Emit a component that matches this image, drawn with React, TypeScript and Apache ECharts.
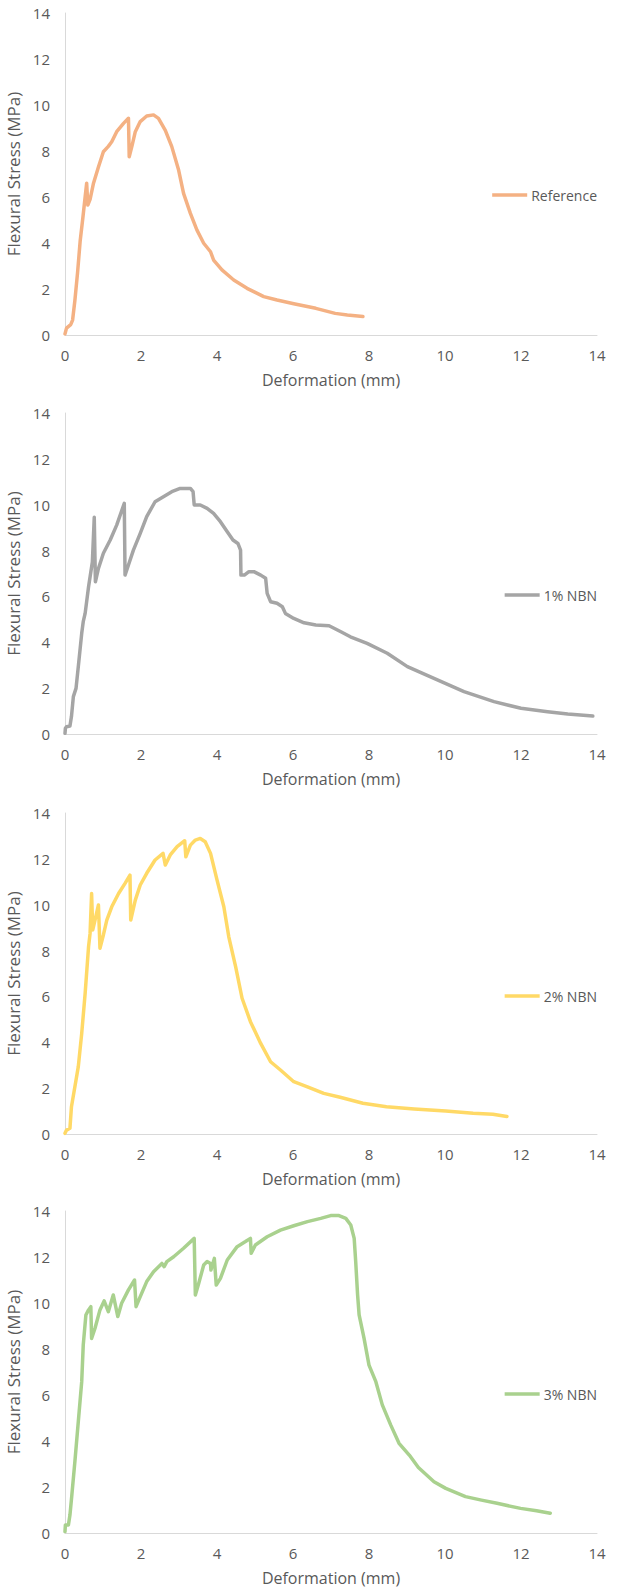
import React, { useEffect, useRef } from "react";
import * as echarts from "echarts";

const xTicks = [0, 2, 4, 6, 8, 10, 12, 14];
const yTicks = [0, 2, 4, 6, 8, 10, 12, 14];
const seriesNames = ["Reference", "1% NBN", "2% NBN", "3% NBN"];
const seriesColors = ["#F4B183", "#A5A5A5", "#FFD966", "#A9D18E"];

const referenceData: number[][] = [
  [0, 0.05], [0.04, 0.3], [0.15, 0.45], [0.2, 0.65], [0.26, 1.5], [0.33, 2.7], [0.4, 4.1],
  [0.47, 5.1], [0.53, 6.0], [0.57, 6.6], [0.6, 5.65], [0.66, 5.9], [0.75, 6.6], [0.88, 7.3],
  [1.01, 7.97], [1.14, 8.2], [1.23, 8.4], [1.36, 8.84], [1.54, 9.2], [1.67, 9.42], [1.69, 7.75],
  [1.76, 8.2], [1.85, 8.84], [1.98, 9.28], [2.15, 9.52], [2.33, 9.57], [2.46, 9.42], [2.64, 8.9],
  [2.81, 8.19], [2.99, 7.17], [3.12, 6.16], [3.3, 5.29], [3.47, 4.57], [3.65, 3.99], [3.83, 3.62],
  [3.91, 3.26], [4.13, 2.83], [4.44, 2.39], [4.79, 2.03], [5.23, 1.67], [5.58, 1.52], [6.02, 1.36],
  [6.6, 1.16], [7.11, 0.94], [7.43, 0.87], [7.84, 0.8],
];

const nbn1Data: number[][] = [
  [0, 0.03], [0.01, 0.25], [0.04, 0.32], [0.13, 0.35], [0.17, 0.76], [0.22, 1.63], [0.29, 1.99],
  [0.35, 2.94], [0.44, 4.39], [0.48, 4.9], [0.53, 5.26], [0.62, 6.42], [0.72, 7.5], [0.77, 9.45],
  [0.8, 6.64], [0.88, 7.22], [1.01, 7.88], [1.19, 8.46], [1.36, 9.11], [1.56, 10.06], [1.58, 6.93],
  [1.67, 7.37], [1.8, 8.02], [1.98, 8.75], [2.15, 9.48], [2.37, 10.13], [2.59, 10.35], [2.81, 10.57],
  [3.03, 10.71], [3.3, 10.71], [3.37, 10.57], [3.4, 9.99], [3.56, 9.99], [3.74, 9.84], [3.91, 9.62],
  [4.09, 9.26], [4.27, 8.82], [4.42, 8.46], [4.55, 8.31], [4.62, 8.02], [4.63, 6.93], [4.72, 6.93],
  [4.84, 7.08], [4.97, 7.08], [5.15, 6.93], [5.28, 6.79], [5.32, 6.13], [5.41, 5.77], [5.58, 5.7],
  [5.72, 5.55], [5.8, 5.26], [6.02, 5.04], [6.29, 4.85], [6.6, 4.75], [6.95, 4.72], [7.26, 4.46],
  [7.51, 4.24], [7.95, 3.95], [8.48, 3.52], [9.01, 2.94], [9.71, 2.43], [10.5, 1.85], [11.29, 1.41],
  [12.0, 1.12], [12.7, 0.97], [13.23, 0.87], [13.89, 0.78],
];

const nbn2Data: number[][] = [
  [0, 0.03], [0.04, 0.17], [0.13, 0.25], [0.17, 1.19], [0.26, 2.06], [0.35, 2.94], [0.44, 4.39],
  [0.53, 6.13], [0.62, 8.17], [0.66, 8.75], [0.7, 10.49], [0.73, 8.9], [0.79, 9.33], [0.88, 9.99],
  [0.92, 8.1], [1.01, 8.68], [1.1, 9.33], [1.23, 9.91], [1.41, 10.49], [1.58, 10.93], [1.71, 11.29],
  [1.73, 9.33], [1.85, 10.2], [1.98, 10.86], [2.15, 11.37], [2.37, 11.95], [2.58, 12.24], [2.64, 11.73],
  [2.77, 12.17], [2.95, 12.53], [3.15, 12.79], [3.18, 12.09], [3.3, 12.6], [3.43, 12.82], [3.56, 12.89],
  [3.69, 12.75], [3.83, 12.24], [4.0, 11.08], [4.18, 9.91], [4.31, 8.6], [4.49, 7.3], [4.66, 5.92],
  [4.88, 4.9], [5.15, 3.95], [5.41, 3.15], [5.67, 2.79], [6.02, 2.28], [6.38, 2.06], [6.81, 1.77],
  [7.24, 1.6], [7.84, 1.34], [8.46, 1.19], [9.19, 1.09], [10.02, 1.0], [10.74, 0.9], [11.26, 0.86],
  [11.63, 0.76],
];

const nbn3Data: number[][] = [
  [0, 0.06], [0.01, 0.35], [0.09, 0.35], [0.13, 0.78], [0.18, 1.65], [0.26, 3.1], [0.35, 4.84],
  [0.44, 6.58], [0.48, 8.17], [0.55, 9.48], [0.62, 9.7], [0.68, 9.84], [0.7, 8.46], [0.79, 8.9],
  [0.92, 9.7], [1.03, 10.09], [1.14, 9.62], [1.27, 10.35], [1.39, 9.41], [1.49, 9.99], [1.67, 10.57],
  [1.83, 11.0], [1.87, 9.84], [1.98, 10.28], [2.15, 10.93], [2.33, 11.36], [2.55, 11.72], [2.61, 11.58],
  [2.68, 11.8], [2.86, 12.01], [3.12, 12.38], [3.4, 12.81], [3.43, 10.35], [3.52, 10.86], [3.65, 11.65],
  [3.74, 11.8], [3.83, 11.72], [3.84, 11.43], [3.93, 11.94], [3.98, 10.78], [4.09, 11.07], [4.27, 11.87],
  [4.53, 12.45], [4.75, 12.67], [4.88, 12.81], [4.9, 12.16], [5.01, 12.52], [5.32, 12.88], [5.67, 13.17],
  [6.02, 13.36], [6.38, 13.54], [6.73, 13.68], [6.99, 13.8], [7.21, 13.8], [7.39, 13.68], [7.52, 13.39],
  [7.61, 12.81], [7.65, 11.8], [7.7, 10.35], [7.74, 9.48], [7.87, 8.46], [8.0, 7.3], [8.18, 6.58],
  [8.35, 5.57], [8.57, 4.7], [8.79, 3.9], [9.06, 3.39], [9.3, 2.85], [9.71, 2.23], [10.02, 1.94],
  [10.54, 1.58], [10.96, 1.43], [11.37, 1.29], [11.99, 1.07], [12.41, 0.97], [12.77, 0.86],
];

const allData = [referenceData, nbn1Data, nbn2Data, nbn3Data];
const gridTops = [13, 413, 813, 1211];
const gridHeights = [322, 321, 321, 322];
const legendTops = [183, 583, 984, 1382];

const FONT = "'Open Sans', sans-serif";
const TEXT = "#595959";
const AXIS = "#D9D9D9";

export default function App() {
  const ref = useRef<HTMLDivElement>(null);
  useEffect(() => {
    if (!ref.current) return;
    const chart = echarts.init(ref.current, undefined, { renderer: "svg" });
    const grids = gridTops.map((t, i) => ({
      left: 65,
      width: 532,
      top: t,
      height: gridHeights[i],
      containLabel: false,
      outerBoundsMode: "none",
    }));
    const xAxes = grids.map((_, i) => ({
      type: "value",
      gridIndex: i,
      min: xTicks[0],
      max: xTicks[xTicks.length - 1],
      interval: 2,
      axisLine: { show: true, lineStyle: { color: AXIS, width: 1 } },
      axisTick: { show: false },
      splitLine: { show: false },
      axisLabel: { color: TEXT, fontSize: 15, fontFamily: FONT, margin: 12 },
      name: "Deformation (mm)",
      nameLocation: "middle",
      nameGap: 37,
      nameTextStyle: { color: TEXT, fontSize: 16, fontFamily: FONT },
    }));
    const yAxes = grids.map((_, i) => ({
      type: "value",
      gridIndex: i,
      min: yTicks[0],
      max: yTicks[yTicks.length - 1],
      interval: 2,
      axisLine: { show: true, lineStyle: { color: AXIS, width: 1 } },
      axisTick: { show: false },
      splitLine: { show: false },
      axisLabel: { color: TEXT, fontSize: 15, fontFamily: FONT, margin: 15 },
      name: "Flexural Stress (MPa)",
      nameLocation: "middle",
      nameGap: 35,
      nameTextStyle: { color: TEXT, fontSize: 17, fontFamily: FONT },
    }));
    const series = allData.map((d, i) => ({
      type: "line",
      name: seriesNames[i],
      xAxisIndex: i,
      yAxisIndex: i,
      data: d,
      symbol: "none",
      smooth: false,
      lineStyle: { color: seriesColors[i], width: 3.5, join: "round", cap: "round" },
      itemStyle: { color: seriesColors[i] },
    }));
    const legends = seriesNames.map((n, i) => ({
      data: [n],
      right: 17,
      top: legendTops[i],
      icon: "rect",
      itemWidth: 35,
      itemHeight: 3.5,
      itemGap: 4,
      textStyle: { color: TEXT, fontSize: 14, fontFamily: FONT, padding: [0, 0, 0, -1] },
      selectedMode: false,
    }));
    chart.setOption({
      animation: false,
      backgroundColor: "#ffffff",
      grid: grids,
      xAxis: xAxes,
      yAxis: yAxes,
      legend: legends,
      series,
    });
    return () => chart.dispose();
  }, []);
  return (
    <div
      ref={ref}
      style={{ position: "absolute", left: 0, top: 0, width: 619, height: 1591 }}
    />
  );
}
